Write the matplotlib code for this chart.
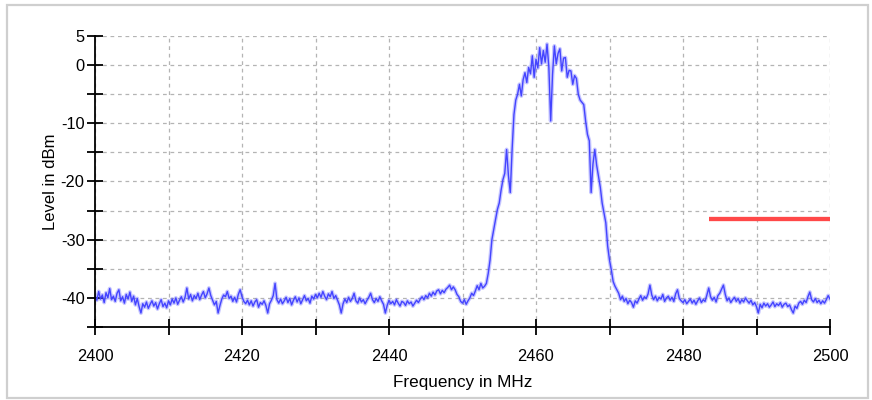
"""
Spectrum trace, 2.4 GHz band (level in dBm vs frequency in MHz)
"""

import numpy as np
import matplotlib

matplotlib.use("Agg")
import matplotlib.pyplot as plt
from matplotlib.patches import Rectangle
from matplotlib.ticker import MultipleLocator, FixedLocator

# ── Data (0.25 MHz steps) ─────────────────────────────────────────────────────
freq_start_mhz = 2400.0
freq_step_mhz = 0.25

level_dbm = [
    -39.6, -40.4, -38.9, -40.2,  # 2400
    -39.5, -40.8, -39.1, -40.0,
    -38.4, -40.3, -39.7, -40.6,
    -39.2, -38.6, -40.5, -39.8,
    -40.9, -39.4, -40.2, -39.0,
    -40.6, -39.7, -41.2, -40.1,  # 2405
    -41.5, -42.6, -41.0, -41.6,
    -40.7, -41.8, -41.1, -40.5,
    -41.4, -40.8, -41.9, -41.0,
    -40.3, -41.5, -40.9, -41.7,
    -40.5, -41.2, -40.2, -40.9,  # 2410
    -40.0, -41.1, -40.4, -39.8,
    -40.7, -39.9, -38.3, -40.2,
    -39.4, -40.5, -39.6, -40.1,
    -39.2, -40.3, -39.5, -38.9,
    -40.0, -39.3, -38.3, -39.6,  # 2415
    -40.4, -41.2, -40.6, -42.6,
    -41.3, -40.2, -39.5, -39.8,
    -38.9, -40.1, -39.7, -40.6,
    -39.9, -40.7, -39.4, -38.6,
    -39.8, -40.6, -41.0, -40.4,  # 2420
    -41.2, -40.5, -41.4, -40.7,
    -40.3, -41.6, -40.8, -41.1,
    -40.5, -41.3, -42.6, -41.0,
    -40.4, -39.6, -37.5, -40.3,
    -40.9, -40.2, -41.0, -40.5,  # 2425
    -39.9, -40.8, -40.1, -41.2,
    -40.4, -39.8, -40.7, -40.0,
    -41.0, -40.3, -39.6, -40.5,
    -40.1, -40.9, -39.7, -40.2,
    -39.4, -40.0, -39.2, -39.9,  # 2430
    -38.9, -39.7, -40.3, -39.3,
    -39.8, -38.9, -40.1, -39.6,
    -40.4, -41.2, -42.6, -41.0,
    -40.2, -40.8, -39.9, -40.6,
    -40.1, -39.2, -40.5, -40.9,  # 2435
    -40.0, -40.7, -40.3, -41.0,
    -40.4, -39.9, -39.2, -40.3,
    -40.8, -40.1, -40.6, -39.8,
    -40.5, -41.1, -42.6, -41.3,
    -40.4, -41.0, -40.6, -41.2,  # 2440
    -40.3, -40.9, -41.4, -40.6,
    -40.8, -41.3, -40.5, -41.0,
    -40.7, -41.4, -40.9, -40.4,
    -40.8, -40.2, -39.8, -40.3,
    -39.6, -40.0, -39.2, -39.7,  # 2445
    -39.0, -39.5, -38.8, -38.6,
    -39.3, -38.7, -39.1, -38.5,
    -38.2, -37.8, -38.6, -38.1,
    -38.6, -39.4, -39.8, -40.6,
    -40.9, -40.3, -41.1, -40.5,  # 2450
    -40.0, -39.2, -39.6, -38.8,
    -37.9, -38.6, -37.5, -38.3,
    -38.0, -37.5, -35.8, -33.5,
    -30.0, -28.2, -26.5, -24.8,
    -23.7, -21.5, -19.7, -18.6,  # 2455
    -14.5, -19.0, -21.9, -14.5,
    -8.5, -6.0, -5.0, -3.3,
    -5.3, -2.5, -1.3, -3.0,
    -0.4, -1.5, 1.6, -2.1,
    1.0, -0.5, 3.0, 0.2,  # 2460
    2.5, 0.5, 3.6, -0.4,
    -9.6, -1.6, 3.3, 0.2,
    2.0, 2.8, -1.0, 1.2,
    1.3, -2.1, -0.9, -1.0,
    -3.3, -1.8, -2.3, -5.0,  # 2465
    -6.0, -6.4, -6.8, -9.6,
    -11.9, -13.0, -21.9, -17.0,
    -14.5, -17.2, -19.1, -21.0,
    -23.7, -25.4, -27.1, -31.1,
    -33.5, -35.2, -37.2, -38.0,  # 2470
    -38.6, -39.2, -40.3, -39.7,
    -40.6, -40.1, -41.0, -40.4,
    -40.8, -41.6, -40.5, -40.9,
    -40.2, -39.6, -40.4, -39.8,
    -40.1, -39.3, -37.8, -39.5,  # 2475
    -40.3, -39.7, -40.5, -39.9,
    -40.2, -39.4, -40.6, -40.0,
    -39.7, -40.4, -39.9, -40.6,
    -39.3, -38.6, -40.1, -40.5,
    -40.8, -40.3, -41.0, -40.6,  # 2480
    -40.2, -40.9, -40.4, -41.1,
    -40.5, -40.0, -40.8, -40.3,
    -40.6, -39.5, -38.3, -39.8,
    -40.4, -39.9, -40.7, -39.6,
    -39.2, -38.5, -37.8, -39.4,  # 2485
    -40.5, -40.0, -40.8, -40.3,
    -39.9, -40.6, -40.1, -40.9,
    -40.3, -40.7, -40.0, -40.5,
    -40.9, -40.4, -41.2, -40.8,
    -41.5, -42.6, -41.1, -41.7,  # 2490
    -40.9, -41.4, -41.0, -41.6,
    -41.2, -40.7, -41.5, -41.0,
    -41.3, -40.8, -41.6, -41.1,
    -40.9, -41.5, -41.2, -42.0,
    -42.6, -41.4, -41.8, -40.9,  # 2495
    -40.6, -41.1, -40.4, -40.8,
    -39.8, -39.0, -40.3, -40.7,
    -40.1, -40.8, -40.4, -41.0,
    -40.5, -40.9, -40.3, -39.6,
    -40.2,  # 2500
]

# limit line (red marker at the right)
limit_freq_mhz = [2483.6, 2500.0]
limit_level_dbm = [-26.5, -26.5]

x_ticks = [2400, 2420, 2440, 2460, 2480, 2500]
y_ticks = [5, 0, -10, -20, -30, -40]

freq_mhz = freq_start_mhz + freq_step_mhz * np.arange(len(level_dbm))

# ── Style ─────────────────────────────────────────────────────────────────────
plt.rcParams["font.family"] = ["Liberation Sans", "DejaVu Sans"]
plt.rcParams["axes.unicode_minus"] = False

trace_color = "#4444ff"
grid_color = "#b4b4b4"

fig = plt.figure(figsize=(8.72, 4.0), dpi=100)
fig.patch.set_facecolor("white")

# light grey frame round the whole picture
fig.add_artist(Rectangle((7 / 872, 2 / 400), 861 / 872, 393 / 400,
                         transform=fig.transFigure, fill=False,
                         edgecolor="#cfcfcf", linewidth=1.6))

ax = fig.add_axes([95 / 872, 1 - 327 / 400, 735 / 872, 291 / 400])

ax.plot(freq_mhz, level_dbm, color=trace_color, linewidth=2.8, alpha=0.3)
ax.plot(freq_mhz, level_dbm, color=trace_color, linewidth=1.0)
ax.plot(limit_freq_mhz, limit_level_dbm, color="#ff4848", linewidth=3.1,
        solid_capstyle="butt")

ax.set_xlim(2400, 2500)
ax.set_ylim(-45, 5)

ax.xaxis.set_major_locator(FixedLocator(x_ticks))
ax.xaxis.set_minor_locator(MultipleLocator(10))
ax.yaxis.set_major_locator(FixedLocator(y_ticks))
ax.yaxis.set_minor_locator(MultipleLocator(5))

ax.grid(True, which="both", color=grid_color, linestyle=(0, (3, 3)), linewidth=0.9)
ax.set_axisbelow(True)

for side in ("top", "right"):
    ax.spines[side].set_visible(False)
for side in ("left", "bottom"):
    ax.spines[side].set_linewidth(1.3)

ax.tick_params(which="both", direction="inout", length=11, width=1.3,
               colors="black", labelsize=11.8)
ax.tick_params(axis="x", pad=10)
ax.tick_params(axis="y", pad=2)

ax.set_xlabel("Frequency in MHz", fontsize=12.3, labelpad=8)
ax.set_ylabel("Level in dBm", fontsize=12, labelpad=2)

fig.savefig("out.png", dpi=100)
